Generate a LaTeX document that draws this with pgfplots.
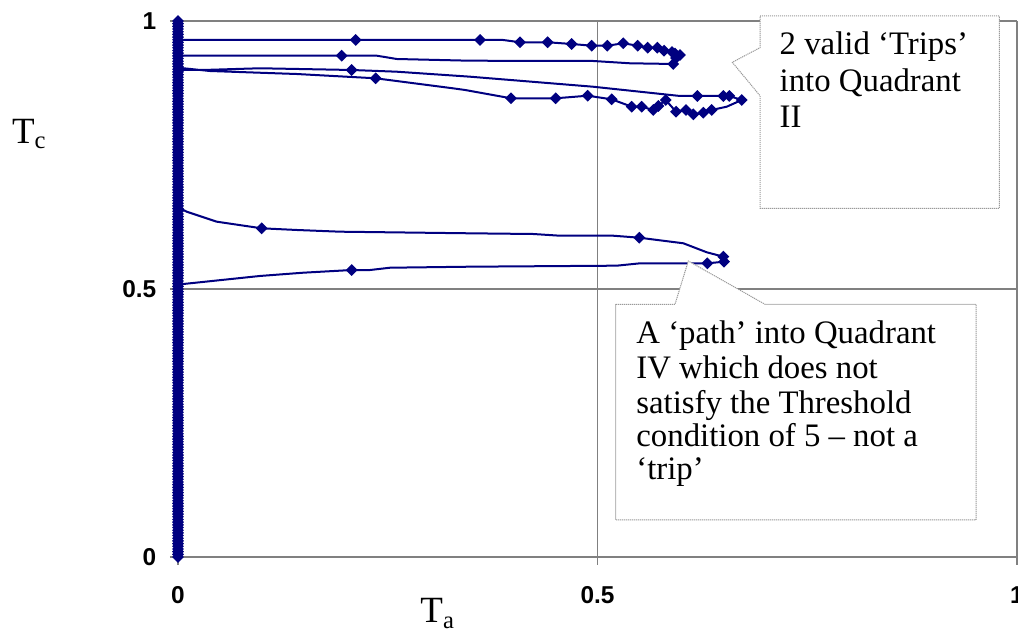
\documentclass[border=0pt]{standalone}
\usepackage{fontspec}
\setmainfont{Liberation Serif}
\newfontfamily\arialf{Liberation Sans}
\usepackage{pgfplots}
\pgfplotsset{compat=1.18}
\definecolor{navy}{HTML}{000080}
\definecolor{gridg}{HTML}{808080}
\definecolor{boxg}{HTML}{9A9A9A}
\begin{document}
\begin{tikzpicture}
\path[use as bounding box] (-89pt,-37pt) rectangle (420pt,278.5pt);
\clip (-89pt,-37pt) rectangle (420pt,278.5pt);
\begin{axis}[
  scale only axis, width=419.5pt, height=268pt,
  xmin=0, xmax=1, ymin=0, ymax=1,
  xtick={0,0.5,1}, ytick={0,0.5,1},
  axis x line*=bottom, axis y line*=left,
  axis line style={gridg, line width=0.6pt, -},
  grid=major, grid style={gridg, line width=0.6pt},
  tick align=outside, major tick length=4pt, tick style={gridg, line width=0.6pt},
  clip=false,
  /pgf/number format/assume math mode=true,
  ticklabel style={font=\arialf\bfseries\fontsize{12.2}{12.5}\selectfont, inner sep=0pt},
  yticklabel style={anchor=east, xshift=-6.7pt},
  xticklabel style={anchor=north, yshift=-10.5pt},
  every axis plot/.append style={navy, line width=1pt},
]
% points on the Tc axis (Ta = 0)
\addplot[mark=square*, mark size=1.6pt, mark options={rotate=45, solid}] coordinates {
(0,0)(0,0.005)(0,0.01)(0,0.015)(0,0.02)(0,0.025)(0,0.03)(0,0.035)(0,0.04)(0,0.045)
(0,0.05)(0,0.055)(0,0.06)(0,0.065)(0,0.07)(0,0.075)(0,0.08)(0,0.085)(0,0.09)(0,0.095)
(0,0.10)(0,0.105)(0,0.11)(0,0.115)(0,0.12)(0,0.125)(0,0.13)(0,0.135)(0,0.14)(0,0.145)
(0,0.15)(0,0.155)(0,0.16)(0,0.165)(0,0.17)(0,0.175)(0,0.18)(0,0.185)(0,0.19)(0,0.195)
(0,0.20)(0,0.205)(0,0.21)(0,0.215)(0,0.22)(0,0.225)(0,0.23)(0,0.235)(0,0.24)(0,0.245)
(0,0.25)(0,0.255)(0,0.26)(0,0.265)(0,0.27)(0,0.275)(0,0.28)(0,0.285)(0,0.29)(0,0.295)
(0,0.30)(0,0.305)(0,0.31)(0,0.315)(0,0.32)(0,0.325)(0,0.33)(0,0.335)(0,0.34)(0,0.345)
(0,0.35)(0,0.355)(0,0.36)(0,0.365)(0,0.37)(0,0.375)(0,0.38)(0,0.385)(0,0.39)(0,0.395)
(0,0.40)(0,0.405)(0,0.41)(0,0.415)(0,0.42)(0,0.425)(0,0.43)(0,0.435)(0,0.44)(0,0.445)
(0,0.45)(0,0.455)(0,0.46)(0,0.465)(0,0.47)(0,0.475)(0,0.48)(0,0.485)(0,0.49)(0,0.495)
(0,0.50)(0,0.505)(0,0.51)(0,0.515)(0,0.52)(0,0.525)(0,0.53)(0,0.535)(0,0.54)(0,0.545)
(0,0.55)(0,0.555)(0,0.56)(0,0.565)(0,0.57)(0,0.575)(0,0.58)(0,0.585)(0,0.59)(0,0.595)
(0,0.60)(0,0.605)(0,0.61)(0,0.615)(0,0.62)(0,0.625)(0,0.63)(0,0.635)(0,0.64)(0,0.645)
(0,0.65)(0,0.655)(0,0.66)(0,0.665)(0,0.67)(0,0.675)(0,0.68)(0,0.685)(0,0.69)(0,0.695)
(0,0.70)(0,0.705)(0,0.71)(0,0.715)(0,0.72)(0,0.725)(0,0.73)(0,0.735)(0,0.74)(0,0.745)
(0,0.75)(0,0.755)(0,0.76)(0,0.765)(0,0.77)(0,0.775)(0,0.78)(0,0.785)(0,0.79)(0,0.795)
(0,0.80)(0,0.805)(0,0.81)(0,0.815)(0,0.82)(0,0.825)(0,0.83)(0,0.835)(0,0.84)(0,0.845)
(0,0.85)(0,0.855)(0,0.86)(0,0.865)(0,0.87)(0,0.875)(0,0.88)(0,0.885)(0,0.89)(0,0.895)
(0,0.90)(0,0.905)(0,0.91)(0,0.915)(0,0.92)(0,0.925)(0,0.93)(0,0.935)(0,0.94)(0,0.945)
(0,0.95)(0,0.955)(0,0.96)(0,0.965)(0,0.97)(0,0.975)(0,0.98)(0,0.985)(0,0.99)(0,0.995)
(0,1.00)};
% trip 1
\addplot[no marks] coordinates {
(0,0.9646)(0.2118,0.9646)(0.3600,0.9646)(0.3874,0.9646)(0.4076,0.9603)(0.4406,0.9603)(0.4692,0.9571)(0.4931,0.9539)(0.5117,0.9539)(0.5307,0.9584)(0.5479,0.9539)(0.5598,0.9502)(0.5713,0.9502)(0.5793,0.9446)(0.5888,0.9422)(0.5924,0.9394)(0.5983,0.9366)(0.5936,0.9310)(0.5903,0.9198)(0.5387,0.9211)(0.4946,0.9254)(0.3480,0.9259)(0.2607,0.9291)(0.2368,0.9353)(0.1951,0.9353)(0,0.9353)};
\addplot[only marks, mark=square*, mark size=1.6pt, mark options={rotate=45}] coordinates {
(0.2118,0.9646)(0.3600,0.9646)(0.4076,0.9603)(0.4406,0.9603)(0.4692,0.9571)(0.4931,0.9539)(0.5117,0.9539)(0.5307,0.9584)(0.5479,0.9539)(0.5598,0.9502)(0.5713,0.9502)(0.5793,0.9446)(0.5888,0.9422)(0.5924,0.9394)(0.5983,0.9366)(0.5936,0.9310)(0.5903,0.9198)(0.1951,0.9353)};
% trip 2
\addplot[no marks] coordinates {
(0,0.9129)(0.0381,0.9067)(0.1415,0.9011)(0.2356,0.8931)(0.3278,0.8744)(0.3421,0.8713)(0.3969,0.8558)(0.4502,0.8558)(0.4883,0.8606)(0.5169,0.8539)(0.5408,0.8401)(0.5527,0.8401)(0.5665,0.8340)(0.5725,0.8414)(0.5813,0.8526)(0.5936,0.8308)(0.6055,0.8340)(0.6142,0.8259)(0.6261,0.8289)(0.6361,0.8340)(0.6540,0.8401)(0.6719,0.8526)(0.6571,0.8601)(0.6500,0.8601)(0.6190,0.8601)(0.5983,0.8601)(0.4946,0.8774)(0.3480,0.8961)(0.2607,0.9054)(0.2070,0.9086)(0.0977,0.9118)(0.0298,0.9086)(0,0.9086)};
\addplot[only marks, mark=square*, mark size=1.6pt, mark options={rotate=45}] coordinates {
(0.2356,0.8931)(0.3969,0.8558)(0.4502,0.8558)(0.4883,0.8606)(0.5169,0.8539)(0.5408,0.8401)(0.5527,0.8401)(0.5665,0.8340)(0.5725,0.8414)(0.5813,0.8526)(0.5936,0.8308)(0.6055,0.8340)(0.6142,0.8259)(0.6261,0.8289)(0.6361,0.8340)(0.6719,0.8526)(0.6571,0.8601)(0.6500,0.8601)(0.6190,0.8601)(0.2070,0.9086)};
% path into quadrant IV
\addplot[no marks] coordinates {
(0,0.6524)(0.0104,0.6442)(0.0461,0.6256)(0.0998,0.6132)(0.1415,0.6101)(0.1931,0.6069)(0.3480,0.6039)(0.4235,0.6026)(0.4553,0.5994)(0.5188,0.5994)(0.5498,0.5957)(0.6023,0.5853)(0.6302,0.5685)(0.6500,0.5603)(0.6508,0.5509)(0.6309,0.5479)(0.5507,0.5479)(0.5229,0.5435)(0.3480,0.5416)(0.2527,0.5397)(0.2288,0.5354)(0.2070,0.5354)(0.1493,0.5304)(0.0977,0.5243)(0.0063,0.5093)(0,0.5093)};
\addplot[only marks, mark=square*, mark size=1.6pt, mark options={rotate=45}] coordinates {
(0.0998,0.6132)(0.5498,0.5957)(0.6500,0.5603)(0.6508,0.5509)(0.6309,0.5479)(0.2070,0.5354)};
\end{axis}
% axis titles
\node[anchor=base west, inner sep=0pt] at (-83.15pt,206.5pt) {\fontsize{18.5}{18.5}\selectfont T\raisebox{-2.2pt}{\fontsize{12.3}{12.3}\selectfont c}};
\node[anchor=base west, inner sep=0pt] at (121pt,-33pt) {\fontsize{18.5}{18.5}\selectfont T\raisebox{-2.8pt}{\fontsize{12.3}{12.3}\selectfont a}};
% callout 1
\filldraw[fill=white, draw=boxg, line width=0.5pt, dash pattern=on 0.6pt off 0.4pt]
  (291pt,270.5pt) -- (410.65pt,270.5pt) -- (410.65pt,174.35pt) -- (291pt,174.35pt)
  -- (291pt,230.65pt) -- (277.15pt,247.35pt) -- (291pt,254.65pt) -- cycle;
\begin{scope}[every node/.style={anchor=base west, inner sep=0pt, font=\fontsize{16.4}{17}\selectfont}]
\node at (300.65pt,251pt) {2 valid ‘Trips’};
\node at (300.65pt,232.65pt) {into Quadrant};
\node at (300.65pt,214.5pt) {II};
\end{scope}
% callout 2
\filldraw[fill=white, draw=boxg, line width=0.5pt, dash pattern=on 0.6pt off 0.4pt]
  (218.85pt,126.35pt) -- (248.5pt,126.35pt) -- (255.15pt,148pt) -- (293.5pt,126.35pt)
  -- (399pt,126.35pt) -- (399pt,18.5pt) -- (218.85pt,18.5pt) -- cycle;
\begin{scope}[every node/.style={anchor=base west, inner sep=0pt, font=\fontsize{16.4}{17}\selectfont}]
\node at (229pt,106.85pt) {A ‘path’ into Quadrant};
\node at (229pt,89.35pt) {IV which does not};
\node at (229pt,71.85pt) {satisfy the Threshold};
\node at (229pt,55.15pt) {condition of 5 – not a};
\node at (229pt,38.5pt) {‘trip’};
\end{scope}
\end{tikzpicture}
\end{document}
